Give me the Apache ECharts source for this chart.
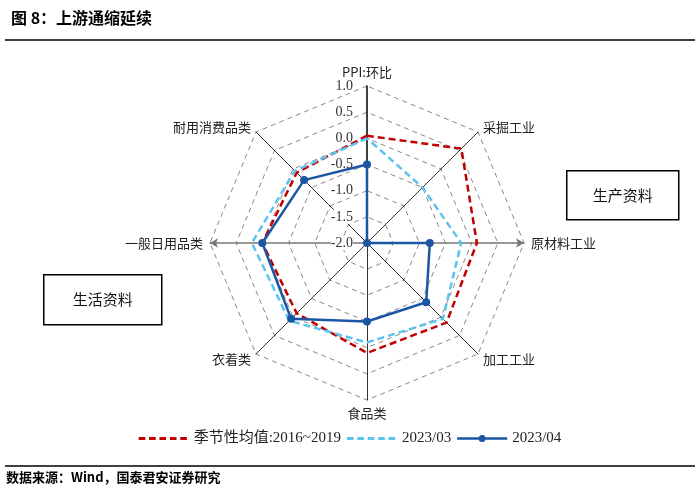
<!DOCTYPE html>
<html>
<head>
<meta charset="utf-8">
<script src="https://cdn.jsdelivr.net/npm/echarts@6/dist/echarts.min.js"></script>
<style>
  html, body { margin: 0; padding: 0; background: #fff; }
  #chart { width: 700px; height: 494px; }
</style>
</head>
<body>
<div id="chart"></div>
<script>
// 指标按逆时针顺序（从顶部开始）
const indicatorNames = ['PPI:环比', '耐用消费品类', '一般日用品类', '衣着类', '食品类', '加工工业', '原材料工业', '采掘工业']
const seasonalAvg = [0.05, -0.1, 0.0, -0.1, 0.1, 0.15, 0.1, 0.55]
const mar2023 = [0.0, -0.05, 0.2, 0.1, -0.1, 0.05, -0.2, -0.5]
const apr2023 = [-0.5, -0.3, 0.0, 0.05, -0.5, -0.4, -0.8, -2.0]
const seriesNames = ['季节性均值:2016~2019', '2023/03', '2023/04']

const serif = '"Liberation Serif", "Noto Sans CJK SC", serif'
const cjk = '"Noto Sans CJK SC", sans-serif'

// 图例图标：虚线 / 带点实线（50x10）
const corners = 'M0,0h0.01v0.01h-0.01z M49.99,9.99h0.01v0.01h-0.01z '
let dashIcon = 'path://' + corners
for (let x = 0; x < 50; x += 10.4) {
    dashIcon += `M${x},3.6h6.6v2.8h-6.6z `
}
const dotIcon = 'path://' + corners + 'M0,3.7h50v2.6h-50z M21.5,5a3.5,3.5 0 1,1 7,0a3.5,3.5 0 1,1 -7,0z'

const chart = echarts.init(document.getElementById('chart'))

const indicator = indicatorNames.map((name, i) => {
    const ind = { name: name, min: -2, max: 1 }
    if (i === 0) {
        ind.axisLabel = { show: true }
        ind.axisLine = { lineStyle: { color: '#000', width: 1.5 } }
    }
    if (i === 2 || i === 6) {
        ind.axisLine = {
            symbol: ['none', 'arrow'],
            symbolSize: [7, 8],
            lineStyle: { color: '#777', width: 1.5 },
        }
    }
    return ind
})

chart.setOption({
    animation: false,
    title: {
        text: '图 8：上游通缩延续',
        left: 6,
        top: 5,
        textStyle: { fontFamily: cjk, fontSize: 16, fontWeight: 'bold', color: '#000' },
    },
    legend: {
        bottom: 43,
        left: 'center',
        itemWidth: 50,
        itemHeight: 10,
        itemGap: 6,
        data: [
            { name: seriesNames[0], icon: dashIcon },
            { name: seriesNames[1], icon: dashIcon },
            { name: seriesNames[2], icon: dotIcon },
        ],
        textStyle: { fontFamily: serif, fontSize: 15, color: '#222' },
    },
    radar: {
        center: [367, 243],
        radius: 157,
        startAngle: 90,
        splitNumber: 6,
        shape: 'polygon',
        indicator: indicator,
        axisName: { color: '#222', fontFamily: cjk, fontSize: 13 },
        nameGap: 7,
        axisLine: { lineStyle: { color: '#000', width: 0.8 } },
        axisLabel: {
            show: false,
            align: 'right',
            margin: 0,
            padding: [0, 14, 0, 0],
            formatter: (v) => '{t|' + v.toFixed(1) + '}',
            rich: {
                t: { fontFamily: serif, fontSize: 14, color: '#333', backgroundColor: '#fff' },
            },
        },
        splitLine: { lineStyle: { color: '#888', type: [5, 4], width: 1 } },
        splitArea: { show: false },
    },
    series: [{
        type: 'radar',
        z: 2,
        data: [
            {
                name: seriesNames[0],
                value: seasonalAvg,
                symbol: 'none',
                lineStyle: { color: '#C00000', width: 2.5, type: [7, 4] },
                itemStyle: { color: '#C00000' },
            },
            {
                name: seriesNames[1],
                value: mar2023,
                symbol: 'none',
                lineStyle: { color: '#5BC3EC', width: 2.5, type: [7, 4] },
                itemStyle: { color: '#5BC3EC' },
            },
            {
                name: seriesNames[2],
                value: apr2023,
                symbol: 'circle',
                symbolSize: 8,
                lineStyle: { color: '#1B56A3', width: 2.5 },
                itemStyle: { color: '#1B56A3' },
            },
        ],
    }],
    graphic: [
        { type: 'line', shape: { x1: 5, y1: 40, x2: 695, y2: 40 }, style: { stroke: '#000', lineWidth: 1.5 } },
        { type: 'line', shape: { x1: 5, y1: 466, x2: 695, y2: 466 }, style: { stroke: '#000', lineWidth: 1.5 } },
        {
            type: 'text', left: 6, top: 471,
            style: { text: '数据来源：Wind，国泰君安证券研究', font: 'bold 13px "Noto Sans CJK SC", sans-serif', fill: '#000' },
        },
        {
            type: 'group', left: 43, top: 274,
            children: [
                { type: 'rect', shape: { x: 0, y: 0, width: 118, height: 50 }, style: { fill: '#fff', stroke: '#000', lineWidth: 1.5 } },
                { type: 'text', style: { x: 59, y: 25, text: '生活资料', align: 'center', verticalAlign: 'middle', font: '15px "Noto Sans CJK SC", sans-serif', fill: '#111' } },
            ],
        },
        {
            type: 'group', left: 566, top: 170,
            children: [
                { type: 'rect', shape: { x: 0, y: 0, width: 112, height: 49 }, style: { fill: '#fff', stroke: '#000', lineWidth: 1.5 } },
                { type: 'text', style: { x: 56, y: 25, text: '生产资料', align: 'center', verticalAlign: 'middle', font: '15px "Noto Sans CJK SC", sans-serif', fill: '#111' } },
            ],
        },
    ],
})
</script>
</body>
</html>
